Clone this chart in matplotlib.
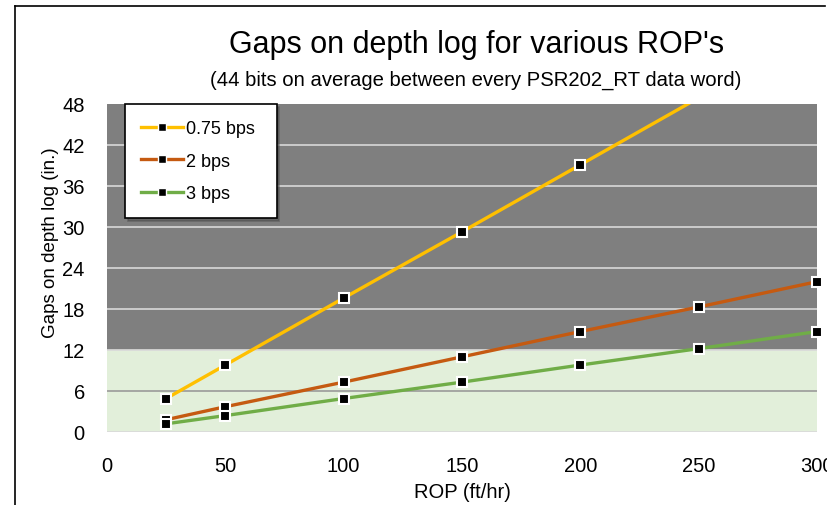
import numpy as np
import matplotlib
matplotlib.use('Agg')
import matplotlib.pyplot as plt
from matplotlib.lines import Line2D

plt.rcParams['font.family'] = ['Liberation Sans', 'DejaVu Sans']

rop = [25, 50, 100, 150, 200, 250, 300]
gaps_075 = [4.9, 9.8, 19.6, 29.3, 39.1, 48.9, 58.7]
gaps_2 = [1.8, 3.7, 7.3, 11.0, 14.7, 18.3, 22.0]
gaps_3 = [1.2, 2.4, 4.9, 7.3, 9.8, 12.2, 14.7]

series = [('0.75 bps', gaps_075, '#FFC000'),
          ('2 bps', gaps_2, '#C55A11'),
          ('3 bps', gaps_3, '#70AD47')]

x_ticks = [0, 50, 100, 150, 200, 250, 300]
y_ticks = [0, 6, 12, 18, 24, 30, 36, 42, 48]
limit = 12

W, H = 827, 506
fig = plt.figure(figsize=(W / 100, H / 100), dpi=100)
ax = fig.add_axes([107 / W, 1 - 433 / H, 710 / W, 328 / H])

ax.set_xlim(0, 300)
ax.set_ylim(0, 48)
ax.axhspan(limit, 48, color='#7F7F7F', zorder=0)
ax.axhspan(0, limit, color='#E2EFDA', zorder=0)
for yt in y_ticks[1:-1]:
    c = '#D9D9D9' if yt >= limit else '#9A9A9A'
    ax.axhline(yt, color=c, lw=1.2, zorder=1)
ax.axhline(0, color='#D9D9D9', lw=1.2, zorder=1)

handles = []
for label, vals, col in series:
    ax.plot(rop, vals, color=col, lw=2.4, zorder=3)
    xs = [x for x, v in zip(rop, vals) if v <= 48]
    ys = [v for v in vals if v <= 48]
    ax.plot(xs, ys, ls='none', marker='s', ms=7, mfc='black', mec='white',
            mew=1.5, clip_on=False, zorder=4)
    handles.append(Line2D([], [], color=col, lw=2.4, marker='s', ms=6,
                          mfc='black', mec='white', mew=1.0, label=label))

for s in ax.spines.values():
    s.set_visible(False)
ax.tick_params(length=0, labelsize=14.5)
ax.tick_params(axis='x', pad=17)
ax.tick_params(axis='y', pad=16)
ax.set_xticks(x_ticks)
ax.set_yticks(y_ticks)
ax.set_xlabel('ROP (ft/hr)', fontsize=14.5, labelpad=5)
ax.set_ylabel('Gaps on depth log (in.)', fontsize=13.5)
ax.yaxis.set_label_coords(-0.068, 0.58)

leg = ax.legend(handles=handles, loc='upper left',
                bbox_to_anchor=(0.025, 0.5, 0.214, 0.5), mode='expand',
                frameon=True, fancybox=False, shadow=True, fontsize=13,
                handlelength=2.3, labelspacing=0.85, borderpad=0.9,
                handletextpad=0.2, borderaxespad=0)
leg.get_frame().set_edgecolor('black')
leg.get_frame().set_linewidth(1.2)
leg.get_frame().set_alpha(1)

fig.text(477 / W, 1 - 45 / H, "Gaps on depth log for various ROP's",
         ha='center', va='center', fontsize=22)
fig.text(476 / W, 1 - 80 / H,
         '(44 bits on average between every PSR202_RT data word)',
         ha='center', va='center', fontsize=14.6)

fig.add_artist(Line2D([15 / W, 15 / W], [0, 1 - 7 / H], color='black', lw=1.2))
fig.add_artist(Line2D([15 / W, 825 / W], [1 - 7 / H, 1 - 7 / H], color='black', lw=1.2))

fig.savefig('out.png', dpi=100)
